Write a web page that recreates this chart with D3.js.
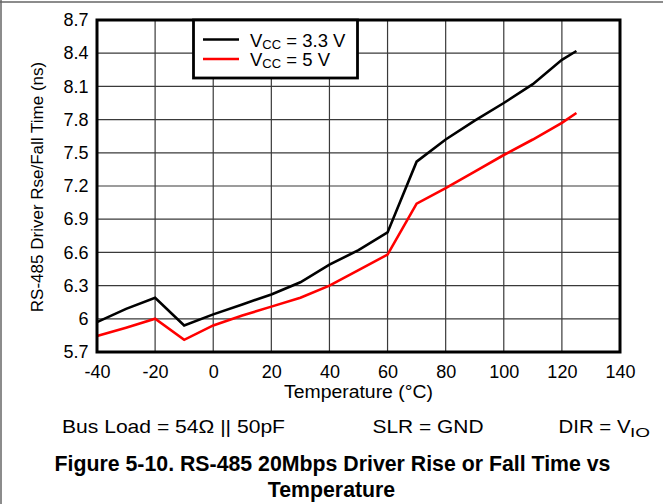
<!DOCTYPE html>
<html>
<head>
<meta charset="utf-8">
<script src="https://cdn.jsdelivr.net/npm/d3@7/dist/d3.min.js"></script>
<style>
  html, body { margin: 0; padding: 0; background: #fff; }
  svg { display: block; font-family: "Liberation Sans", Arial, sans-serif; }
</style>
</head>
<body>
<svg id="chart" width="663" height="504"></svg>
<script>
// ---- data ----
const temps = [-40, -30, -20, -10, 0, 10, 20, 30, 40, 50, 60, 70, 80, 90, 100, 110, 120, 125];
const vcc33 = [5.97, 6.09, 6.19, 5.94, 6.04, 6.13, 6.22, 6.33, 6.49, 6.62, 6.78, 7.42, 7.62, 7.79, 7.95, 8.12, 8.34, 8.42];
const vcc5  = [5.845, 5.92, 6.00, 5.81, 5.94, 6.03, 6.11, 6.19, 6.30, 6.44, 6.58, 7.04, 7.18, 7.33, 7.48, 7.62, 7.77, 7.86];
const xTicks = [-40, -20, 0, 20, 40, 60, 80, 100, 120, 140];
const yTicks = [5.7, 6, 6.3, 6.6, 6.9, 7.2, 7.5, 7.8, 8.1, 8.4, 8.7];
const seriesNames = ["3.3 V", "5 V"];
const seriesColors = ["#000000", "#ff0000"];

const svg = d3.select("#chart");
const L = 97, R = 620, T = 20, B = 352;
const x = d3.scaleLinear().domain([-40, 140]).range([L, R]);
const y = d3.scaleLinear().domain([5.7, 8.7]).range([B, T]);

// outer page frame (top and left)
svg.append("line").attr("x1", 0).attr("x2", 663).attr("y1", 2).attr("y2", 2)
  .attr("stroke", "#666").attr("stroke-width", 1.5);
svg.append("line").attr("x1", 1).attr("x2", 1).attr("y1", 0).attr("y2", 504)
  .attr("stroke", "#666").attr("stroke-width", 1.5);

// grid
const grid = svg.append("g");
grid.selectAll("line.v").data(xTicks).join("line")
  .attr("x1", d => x(d)).attr("x2", d => x(d)).attr("y1", T).attr("y2", B)
  .attr("stroke", "#3a3a3a").attr("stroke-width", 1.2);
grid.selectAll("line.h").data(yTicks).join("line")
  .attr("x1", L).attr("x2", R).attr("y1", d => y(d)).attr("y2", d => y(d))
  .attr("stroke", "#3a3a3a").attr("stroke-width", 1.2);

// axes labels
const xAxis = svg.append("g").attr("transform", `translate(0,${B})`)
  .call(d3.axisBottom(x).tickValues(xTicks).tickSize(0).tickPadding(13.5).tickFormat(d => String(d)));
const yAxis = svg.append("g").attr("transform", `translate(${L},0)`)
  .call(d3.axisLeft(y).tickValues(yTicks).tickSize(0).tickPadding(8.5).tickFormat(d => String(d)));
[xAxis, yAxis].forEach(a => {
  a.select(".domain").remove();
  a.selectAll("text").attr("font-size", 18).attr("fill", "#000")
    .attr("font-family", "'Liberation Sans', Arial, sans-serif");
});

// lines
const line = d3.line().x(d => x(d[0])).y(d => y(d[1]));
[vcc33, vcc5].forEach((vals, i) => {
  svg.append("path")
    .datum(temps.map((t, k) => [t, vals[k]]))
    .attr("fill", "none").attr("stroke", seriesColors[i]).attr("stroke-width", 2.6)
    .attr("stroke-linejoin", "miter").attr("d", line);
});

// plot frame
svg.append("rect").attr("x", L).attr("y", T).attr("width", R - L).attr("height", B - T)
  .attr("fill", "none").attr("stroke", "#000").attr("stroke-width", 3);

// legend
const lg = svg.append("g");
lg.append("rect").attr("x", 193.5).attr("y", 20).attr("width", 164).attr("height", 58)
  .attr("fill", "#fff").attr("stroke", "#000").attr("stroke-width", 2.8);
const rowY = [39.5, 59];
seriesNames.forEach((nm, i) => {
  lg.append("line").attr("x1", 203).attr("x2", 239).attr("y1", rowY[i]).attr("y2", rowY[i])
    .attr("stroke", seriesColors[i]).attr("stroke-width", 2.6);
  const t = lg.append("text").attr("x", 250).attr("y", rowY[i] + 7).attr("font-size", 18.5).attr("fill", "#000");
  t.append("tspan").text("V");
  t.append("tspan").attr("font-size", 13).attr("dy", 2).text("CC");
  t.append("tspan").attr("dy", -2).text(" = " + nm);
});

// axis titles
svg.append("text").attr("x", (L + R) / 2).attr("y", 398).attr("text-anchor", "middle")
  .attr("font-size", 17.5).attr("textLength", 149).attr("lengthAdjust", "spacingAndGlyphs")
  .text("Temperature (°C)");
svg.append("text").attr("transform", "translate(43,187) rotate(-90)").attr("text-anchor", "middle")
  .attr("font-size", 17).text("RS-485 Driver Rse/Fall Time (ns)");

// conditions line
function stretched(txt, x0, yb, w, fs) {
  return svg.append("text").attr("x", x0).attr("y", yb).attr("font-size", fs)
    .attr("textLength", w).attr("lengthAdjust", "spacingAndGlyphs").text(txt);
}
stretched("Bus Load = 54Ω || 50pF", 62, 432.5, 223, 18.5);
stretched("SLR = GND", 372.5, 432.5, 111, 18.5);
stretched("DIR = V", 558.5, 432.5, 72, 18.5);
stretched("IO", 630, 437, 20, 13.5);

// figure title
svg.append("text").attr("x", 332.5).attr("y", 470.5).attr("text-anchor", "middle")
  .attr("font-size", 21.3).attr("font-weight", "bold")
  .text("Figure 5-10. RS-485 20Mbps Driver Rise or Fall Time vs");
svg.append("text").attr("x", 331.5).attr("y", 497).attr("text-anchor", "middle")
  .attr("font-size", 21.3).attr("font-weight", "bold")
  .text("Temperature");
</script>
</body>
</html>
